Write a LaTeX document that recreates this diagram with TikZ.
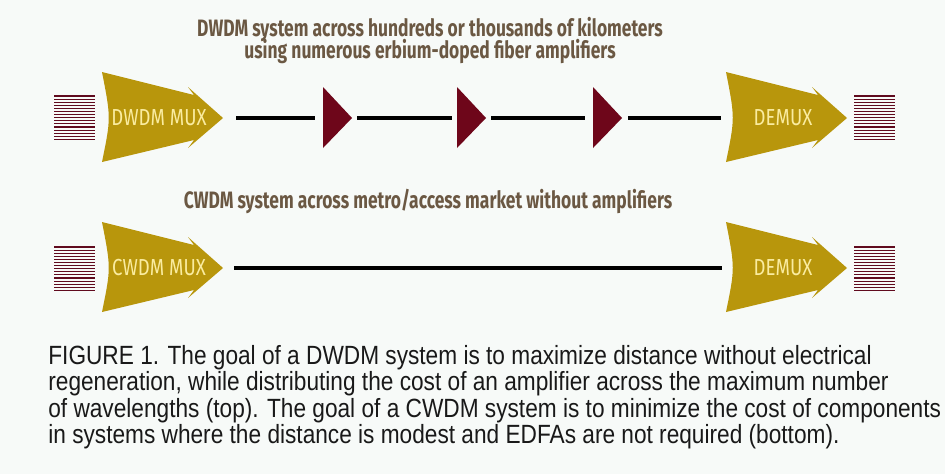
\documentclass[tikz,border=0pt]{standalone}
\usepackage{fontspec}
\setmainfont[FakeStretch=0.86]{Liberation Sans}
\newfontfamily\headfont[FakeStretch=0.735]{Fira Sans}
\newfontfamily\tagfont[FakeStretch=0.8]{Fira Sans}
\usetikzlibrary{positioning}
\definecolor{muxgold}{RGB}{184,150,12}
\definecolor{labelcream}{RGB}{250,236,160}
\definecolor{ampred}{RGB}{110,6,26}
\definecolor{bundlered}{RGB}{96,10,30}
\definecolor{headbrown}{RGB}{107,88,67}
\definecolor{paper}{RGB}{247,250,248}

\begin{document}
\begin{tikzpicture}[
    x=0.02cm, y=-0.02cm,
    headline/.style={font=\headfont\bfseries\fontsize{13.5}{16}\selectfont, text=headbrown, inner sep=0pt, anchor=base},
    muxlabel/.style={font=\tagfont\fontsize{13.2}{15}\selectfont, text=labelcream, inner sep=0pt},
    captionline/.style={font=\fontsize{15}{17}\selectfont, text=black!90, inner sep=0pt, anchor=base west},
    fiber/.style={line width=1.9pt, black},
    pics/bigarrow/.style={code={
        \fill[muxgold] (0,-46) -- (92,-23) -- (86,-31) -- (121,0) -- (86,30) -- (92,22) -- (0,44) .. controls (9,0) .. (0,-46) -- cycle;
        \coordinate (-tip) at (121,0);
        \node[muxlabel] (-lbl) at (57,0) {#1};
    }},
    pics/amp/.style={code={
        \fill[ampred] (0,-31) -- (29,0) -- (0,30) -- cycle;
        \coordinate (-in) at (0,0);
        \coordinate (-out) at (29,0);
    }},
    pics/bundle/.style={code={
        \foreach \k in {0,...,14}
            \draw[bundlered, line width=0.6pt] (0,\k*3.1) -- (41,\k*3.1);
    }}
]
\fill[paper] (0,0) rectangle (945,474);
\useasboundingbox (0,0) rectangle (945,474);

% DWDM (oben)
\node[headline] (dwdmhead1) at (430,36) {DWDM system across hundreds or thousands of kilometers};
\node[headline] (dwdmhead2) at (430,58) {using numerous erbium-doped fiber amplifiers};

\pic at (54,96) {bundle};
\pic (dmux) at (102,118) {bigarrow={DWDM MUX}};
\pic (a1) at (323,118) {amp};
\pic (a2) at (457,118) {amp};
\pic (a3) at (593,118) {amp};
\pic (ddemux) at (726,118) {bigarrow={DEMUX}};
\pic at (854,96) {bundle};

\draw[fiber, shorten <=0.26cm, shorten >=0.16cm] (dmux-tip) -- (a1-in);
\draw[fiber, shorten <=0.1cm, shorten >=0.1cm] (a1-out) -- (a2-in);
\draw[fiber, shorten <=0.1cm, shorten >=0.16cm] (a2-out) -- (a3-in);
\draw[fiber, shorten <=0.12cm, shorten >=0.1cm] (a3-out) -- (ddemux-tip -| 726,0);

% CWDM (unten)
\node[headline] (cwdmhead) at (428,208) {CWDM system across metro/access market without amplifiers};

\pic at (54,247) {bundle};
\pic (cmux) at (102,268) {bigarrow={CWDM MUX}};
\pic (cdemux) at (726,268) {bigarrow={DEMUX}};
\pic at (854,247) {bundle};
\coordinate (cdemuxin) at (722,268);
\draw[fiber, shorten <=0.22cm] (cmux-tip) -- (cdemuxin);

% Bildunterschrift
\node[captionline] (cap1) at (48,364) {FIGURE 1. The goal of a DWDM system is to maximize distance without electrical};
\node[captionline] (cap2) at (48,390) {regeneration, while distributing the cost of an amplifier across the maximum number};
\node[captionline] (cap3) at (48,417) {of wavelengths (top). The goal of a CWDM system is to minimize the cost of components};
\node[captionline] (cap4) at (48,443) {in systems where the distance is modest and EDFAs are not required (bottom).};

\end{tikzpicture}
\end{document}
